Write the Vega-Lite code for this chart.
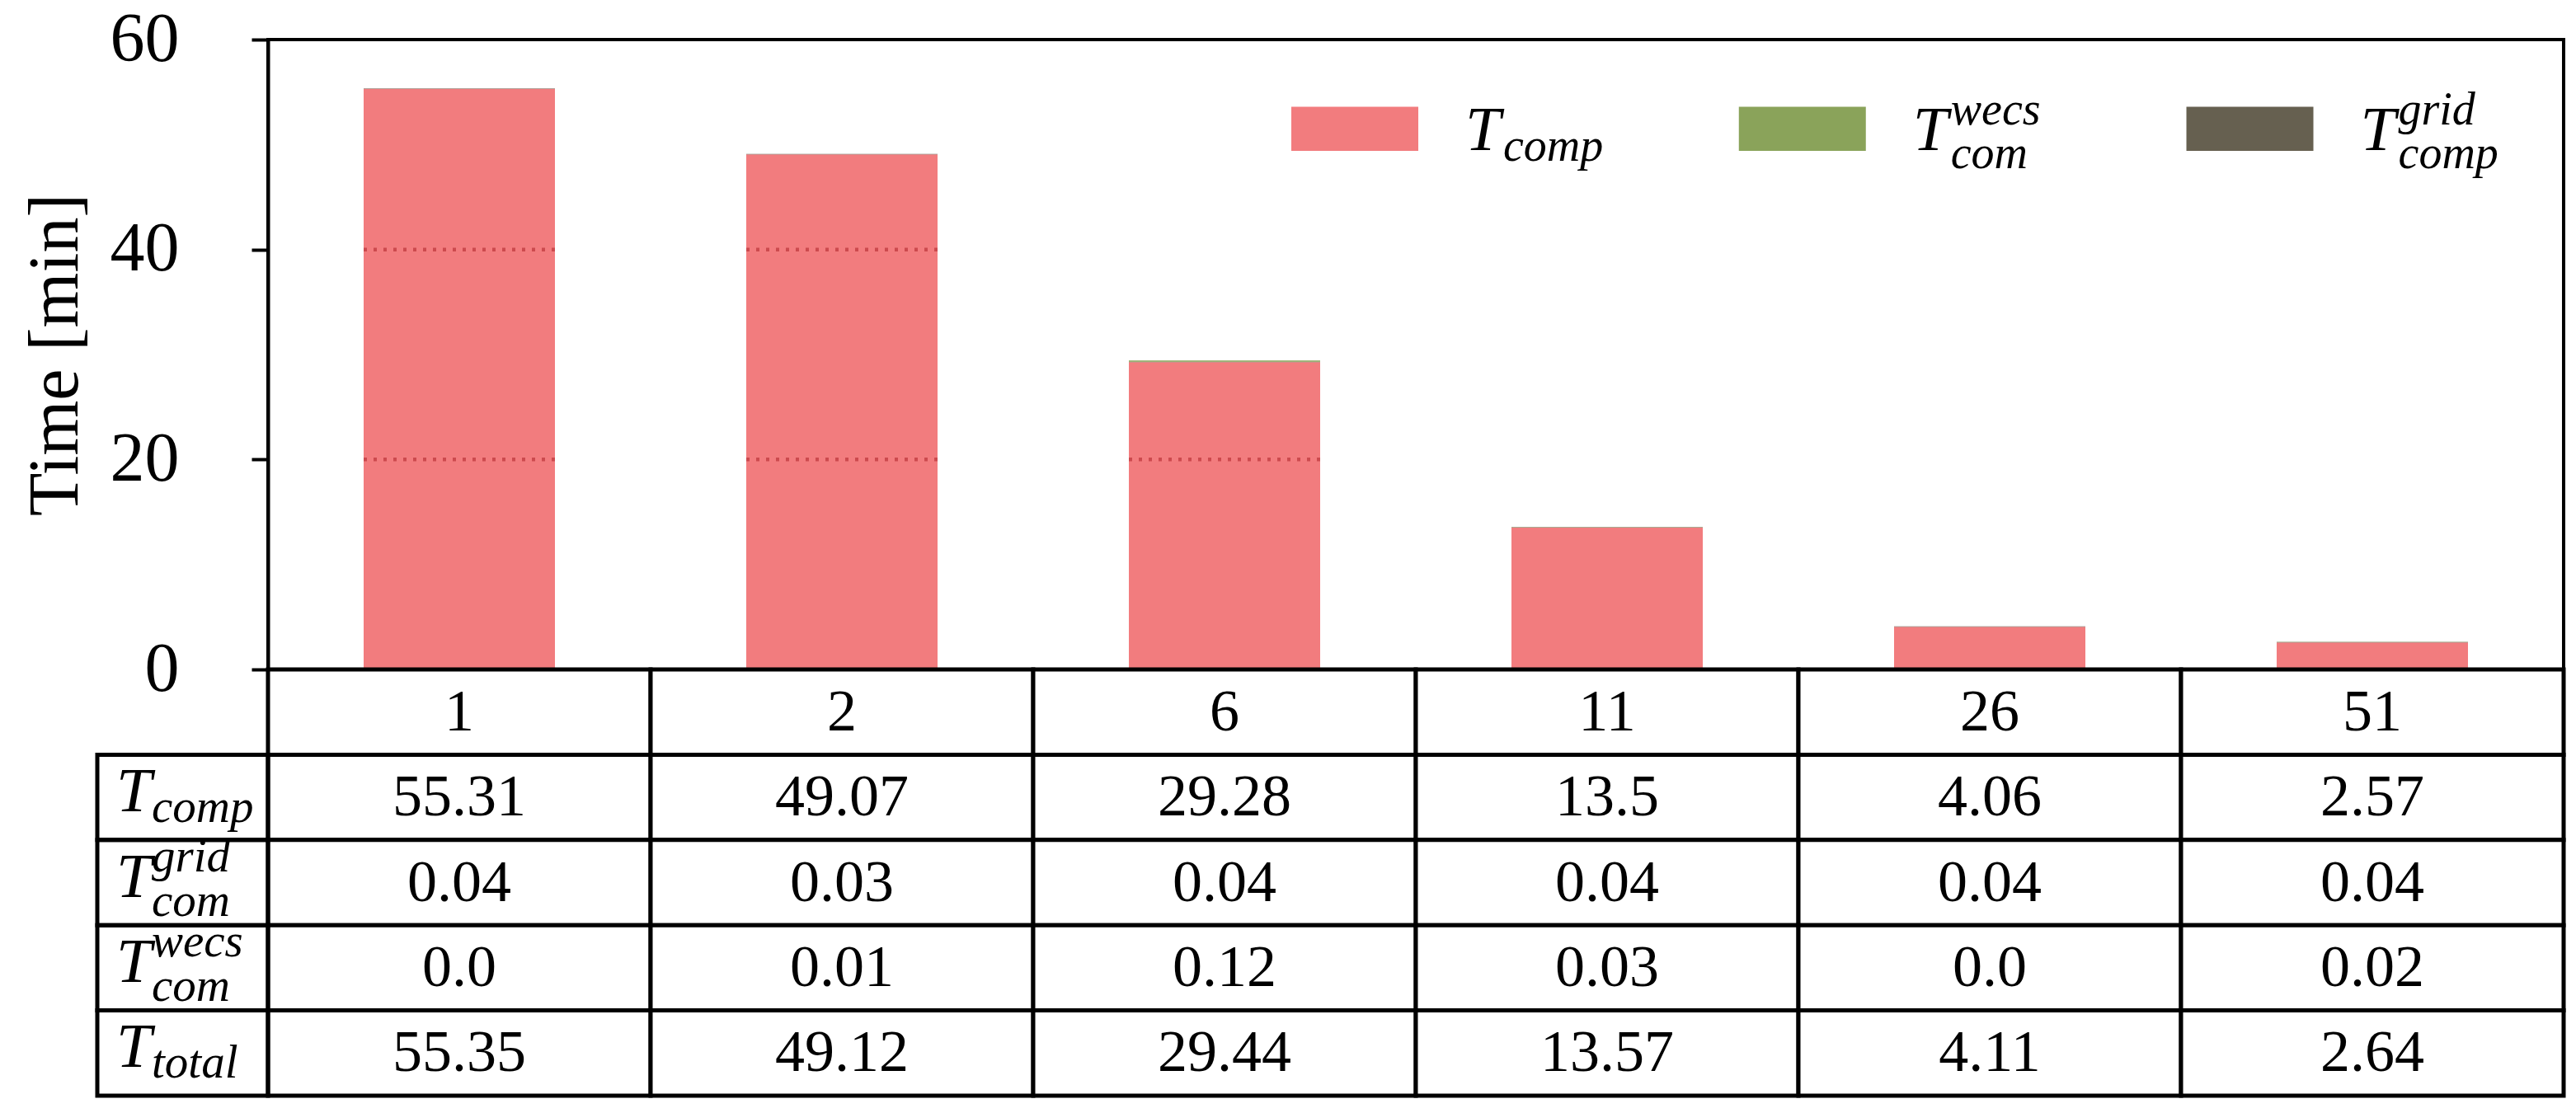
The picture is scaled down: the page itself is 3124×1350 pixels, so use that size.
{
  "$schema": "https://vega.github.io/schema/vega-lite/v6.json",
  "background": "white",
  "padding": {"left": 22, "top": 4, "right": 0, "bottom": 0},
  "bounds": "flush",
  "spacing": 0,
  "config": {"font": "Liberation Serif", "view": {"stroke": null}},
  "datasets": {
    "bars": [
      {"n": "1", "s": "comp", "v": 55.31}, {"n": "1", "s": "grid", "v": 0.04}, {"n": "1", "s": "wecs", "v": 0.0},
      {"n": "2", "s": "comp", "v": 49.07}, {"n": "2", "s": "grid", "v": 0.03}, {"n": "2", "s": "wecs", "v": 0.01},
      {"n": "6", "s": "comp", "v": 29.28}, {"n": "6", "s": "grid", "v": 0.04}, {"n": "6", "s": "wecs", "v": 0.12},
      {"n": "11", "s": "comp", "v": 13.5}, {"n": "11", "s": "grid", "v": 0.04}, {"n": "11", "s": "wecs", "v": 0.03},
      {"n": "26", "s": "comp", "v": 4.06}, {"n": "26", "s": "grid", "v": 0.04}, {"n": "26", "s": "wecs", "v": 0.0},
      {"n": "51", "s": "comp", "v": 2.57}, {"n": "51", "s": "grid", "v": 0.04}, {"n": "51", "s": "wecs", "v": 0.02}
    ],
    "gridlines": [
      {"n": "1", "g": 20}, {"n": "1", "g": 40}, {"n": "2", "g": 20}, {"n": "2", "g": 40}, {"n": "6", "g": 20}
    ],
    "legend": [
      {"s": "comp", "sub": "comp", "sup": ""},
      {"s": "wecs", "sub": "com", "sup": "wecs"},
      {"s": "grid", "sub": "comp", "sup": "grid"}
    ],
    "table": [
      {"n": "1", "comp": "55.31", "grid": "0.04", "wecs": "0.0", "total": "55.35"},
      {"n": "2", "comp": "49.07", "grid": "0.03", "wecs": "0.01", "total": "49.12"},
      {"n": "6", "comp": "29.28", "grid": "0.04", "wecs": "0.12", "total": "29.44"},
      {"n": "11", "comp": "13.5", "grid": "0.04", "wecs": "0.03", "total": "13.57"},
      {"n": "26", "comp": "4.06", "grid": "0.04", "wecs": "0.0", "total": "4.11"},
      {"n": "51", "comp": "2.57", "grid": "0.04", "wecs": "0.02", "total": "2.64"}
    ],
    "heads": [
      {"key": "comp", "sub": "comp", "sup": ""},
      {"key": "grid", "sub": "com", "sup": "grid"},
      {"key": "wecs", "sub": "com", "sup": "wecs"},
      {"key": "total", "sub": "total", "sup": ""}
    ]
  },
  "vconcat": [
    {
      "width": 2784,
      "height": 764,
      "view": {"stroke": "black", "strokeWidth": 4},
      "resolve": {"scale": {"x": "independent"}},
      "layer": [
        {
          "layer": [
            {
              "data": {"name": "bars"},
              "mark": {"type": "bar", "width": {"band": 0.5}},
              "encoding": {
                "x": {"field": "n", "type": "nominal", "scale": {"domain": ["1", "2", "6", "11", "26", "51"], "paddingInner": 0, "paddingOuter": 0}, "axis": null},
                "y": {
                  "field": "v", "type": "quantitative", "stack": "zero",
                  "scale": {"domain": [0, 60], "nice": false},
                  "axis": {
                    "title": "Time [min]", "values": [0, 20, 40, 60], "grid": false,
                    "domainColor": "black", "domainWidth": 4,
                    "tickColor": "black", "tickWidth": 4, "tickSize": 20,
                    "labelFont": "Liberation Serif", "labelFontSize": 84, "labelColor": "black", "labelPadding": 88,
                    "labelFlush": false, "labelOverlap": false,
                    "titleFont": "Liberation Serif", "titleFontSize": 86, "titleFontWeight": "normal", "titleColor": "black", "titlePadding": 22
                  }
                },
                "color": {"field": "s", "type": "nominal", "scale": {"domain": ["comp", "wecs", "grid"], "range": ["#f27c7e", "#8aa35a", "#666050"]}, "legend": null},
                "order": {"field": "s", "sort": "ascending"}
              }
            },
            {
              "data": {"name": "gridlines"},
              "mark": {"type": "rule", "color": "#cc4a4e", "strokeWidth": 4.5, "strokeDash": [4, 8]},
              "encoding": {
                "x": {"field": "n", "type": "nominal", "bandPosition": 0.25},
                "x2": {"field": "n", "bandPosition": 0.75},
                "y": {"field": "g", "type": "quantitative"}
              }
            }
          ]
        },
        {
          "data": {"name": "legend"},
          "encoding": {
            "x": {"field": "s", "type": "nominal", "scale": {"type": "point", "domain": ["pad1", "pad2", "comp", "wecs", "grid"], "padding": 0.5647, "align": 0.3793}, "axis": null},
            "y": {"datum": 51.5, "type": "quantitative"}
          },
          "layer": [
            {
              "mark": {"type": "point", "shape": "M-1,-0.346H1V0.346H-1Z", "size": 23716, "filled": true, "opacity": 1, "strokeWidth": 0},
              "encoding": {"color": {"field": "s", "type": "nominal", "legend": null}}
            },
            {
              "mark": {"type": "text", "text": "T", "fontSize": 77, "fontStyle": "italic", "align": "left", "baseline": "alphabetic", "dx": 134, "dy": 26, "color": "black"}
            },
            {
              "transform": [{"filter": "datum.sup == ''"}],
              "mark": {"type": "text", "fontSize": 56, "fontStyle": "italic", "align": "left", "baseline": "alphabetic", "dx": 180, "dy": 39, "color": "black"},
              "encoding": {"text": {"field": "sub"}}
            },
            {
              "transform": [{"filter": "datum.sup != ''"}],
              "mark": {"type": "text", "fontSize": 56, "fontStyle": "italic", "align": "left", "baseline": "alphabetic", "dx": 180, "dy": 48, "color": "black"},
              "encoding": {"text": {"field": "sub"}}
            },
            {
              "transform": [{"filter": "datum.sup != ''"}],
              "mark": {"type": "text", "fontSize": 56, "fontStyle": "italic", "align": "left", "baseline": "alphabetic", "dx": 180, "dy": -5, "color": "black"},
              "encoding": {"text": {"field": "sup"}}
            }
          ]
        }
      ]
    },
    {
      "width": 2784,
      "height": 517,
      "layer": [
        {
          "data": {"name": "table"},
          "transform": [{"fold": ["n", "comp", "grid", "wecs", "total"], "as": ["key", "val"]}],
          "encoding": {
            "x": {"field": "n", "type": "nominal", "scale": {"domain": ["1", "2", "6", "11", "26", "51"], "paddingInner": 0, "paddingOuter": 0}, "axis": null},
            "y": {"field": "key", "type": "nominal", "scale": {"domain": ["n", "comp", "grid", "wecs", "total"], "paddingInner": 0, "paddingOuter": 0}, "axis": null}
          },
          "layer": [
            {"mark": {"type": "rect", "fill": "white", "stroke": "black", "strokeWidth": 5}},
            {"mark": {"type": "text", "fontSize": 72, "baseline": "middle", "color": "black"}, "encoding": {"text": {"field": "val"}}}
          ]
        },
        {
          "data": {"name": "heads"},
          "encoding": {
            "x": {"datum": "1"},
            "y": {"field": "key", "type": "nominal"}
          },
          "layer": [
            {"mark": {"type": "rect", "width": 207, "xOffset": -335.5, "fillOpacity": 0, "stroke": "black", "strokeWidth": 5}},
            {"mark": {"type": "text", "text": "T", "fontSize": 77, "fontStyle": "italic", "align": "left", "baseline": "alphabetic", "dx": -416, "dy": 17, "color": "black"}},
            {
              "transform": [{"filter": "datum.sup == ''"}],
              "mark": {"type": "text", "fontSize": 57, "fontStyle": "italic", "align": "left", "baseline": "alphabetic", "dx": -373, "dy": 30, "color": "black"},
              "encoding": {"text": {"field": "sub"}}
            },
            {
              "transform": [{"filter": "datum.sup != ''"}],
              "mark": {"type": "text", "fontSize": 57, "fontStyle": "italic", "align": "left", "baseline": "alphabetic", "dx": -373, "dy": 40, "color": "black"},
              "encoding": {"text": {"field": "sub"}}
            },
            {
              "transform": [{"filter": "datum.sup != ''"}],
              "mark": {"type": "text", "fontSize": 57, "fontStyle": "italic", "align": "left", "baseline": "alphabetic", "dx": -373, "dy": -14, "color": "black"},
              "encoding": {"text": {"field": "sup"}}
            }
          ]
        }
      ]
    }
  ]
}
